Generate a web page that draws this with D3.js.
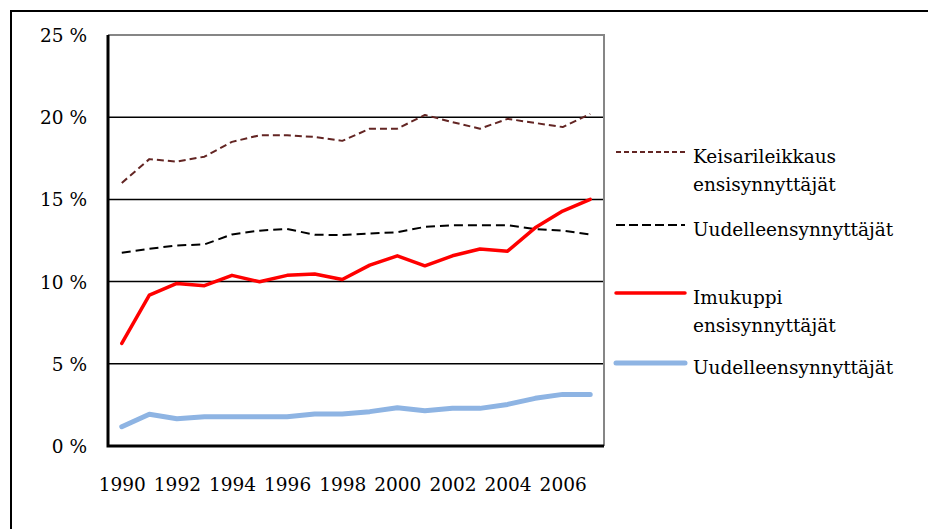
<!DOCTYPE html>
<html>
<head>
<meta charset="utf-8">
<script src="https://cdn.jsdelivr.net/npm/d3@7"></script>
<style>
  body { margin: 0; background: #fff; }
</style>
</head>
<body>
<svg id="chart" width="928" height="529"></svg>
<script>
// years on the category axis, labels every second year
var years = d3.range(1990, 2008);
var yTicks = [0, 5, 10, 15, 20, 25];

// series values (%)
var keisariEnsi = [16.0, 17.45, 17.3, 17.6, 18.5, 18.9, 18.9, 18.8, 18.56, 19.3, 19.3, 20.14, 19.7, 19.3, 19.9, 19.65, 19.4, 20.2];
var keisariUudelleen = [11.75, 12.0, 12.2, 12.26, 12.87, 13.1, 13.2, 12.85, 12.83, 12.93, 13.0, 13.33, 13.43, 13.43, 13.43, 13.2, 13.1, 12.87];
var imukuppiEnsi = [6.24, 9.18, 9.89, 9.75, 10.38, 9.99, 10.38, 10.46, 10.13, 11.0, 11.57, 10.96, 11.57, 11.98, 11.85, 13.27, 14.29, 15.0];
var imukuppiUudelleen = [1.17, 1.93, 1.66, 1.78, 1.78, 1.78, 1.78, 1.95, 1.95, 2.09, 2.33, 2.15, 2.29, 2.29, 2.53, 2.9, 3.14, 3.14];

var series = [
  {name: ['Keisarileikkaus', 'ensisynnyttäjät'], values: keisariEnsi, color: '#632523', width: 2, dash: '7,4', legendDash: '5,3', ly: 152},
  {name: ['Uudelleensynnyttäjät'], values: keisariUudelleen, color: '#000', width: 2, dash: '9,5', legendDash: '9,4', ly: 225},
  {name: ['Imukuppi', 'ensisynnyttäjät'], values: imukuppiEnsi, color: '#ff0000', width: 3.5, dash: null, legendDash: null, ly: 293},
  {name: ['Uudelleensynnyttäjät'], values: imukuppiUudelleen, color: '#8eb4e3', width: 5, dash: null, legendDash: null, ly: 363}
];

var svg = d3.select('#chart');
var plot = {left: 108, top: 35, right: 604, bottom: 446};
// Liberation Serif is not picked up here, DejaVu Serif is the serif that renders
var FONT = '"DejaVu Serif", "Liberation Serif", serif';
var FS = 18.5;

var x = d3.scalePoint().domain(years).range([plot.left, plot.right]).padding(0.5);
var y = d3.scaleLinear().domain([0, 25]).range([plot.bottom, plot.top]);

// outer frame (only top and left edges are visible)
svg.append('path')
    .attr('d', 'M11,529 L11,11 L928,11')
    .attr('fill', 'none').attr('stroke', '#000').attr('stroke-width', 2);

// gridlines
svg.selectAll('.grid').data(yTicks.filter(function (d) { return d > 0 && d < 25; }))
  .enter().append('line')
    .attr('x1', plot.left).attr('x2', plot.right)
    .attr('y1', function (d) { return y(d); }).attr('y2', function (d) { return y(d); })
    .attr('stroke', '#000').attr('stroke-width', 1.5);

// plot frame: grey top/right, black axis lines left/bottom
svg.append('path')
    .attr('d', 'M' + plot.left + ',' + plot.top + ' L' + plot.right + ',' + plot.top + ' L' + plot.right + ',' + plot.bottom)
    .attr('fill', 'none').attr('stroke', '#868686').attr('stroke-width', 2);
svg.append('path')
    .attr('d', 'M' + plot.left + ',' + plot.top + ' L' + plot.left + ',' + plot.bottom + ' L' + plot.right + ',' + plot.bottom)
    .attr('fill', 'none').attr('stroke', '#000').attr('stroke-width', 3);

// y axis labels
var yAxis = d3.axisLeft(y).tickValues(yTicks).tickSize(0).tickPadding(0)
    .tickFormat(function (d) { return d + ' %'; });
var gy = svg.append('g').attr('transform', 'translate(87,0)').call(yAxis);
gy.attr('font-family', FONT).attr('font-size', FS);
gy.select('.domain').remove();
gy.selectAll('text').attr('fill', '#000').attr('dy', '0.35em');

// x axis labels
var xAxis = d3.axisBottom(x).tickValues(years.filter(function (d) { return d % 2 === 0; }))
    .tickSize(0).tickPadding(0);
var gx = svg.append('g').attr('transform', 'translate(0,' + 485 + ')').call(xAxis);
gx.attr('font-family', FONT).attr('font-size', FS);
gx.select('.domain').remove();
gx.selectAll('text').attr('fill', '#000').attr('dy', '0.35em');

// lines
var line = d3.line()
    .x(function (d, i) { return x(years[i]); })
    .y(function (d) { return y(d); });

svg.selectAll('.series').data(series).enter().append('path')
    .attr('class', 'series')
    .attr('d', function (d) { return line(d.values); })
    .attr('fill', 'none')
    .attr('stroke', function (d) { return d.color; })
    .attr('stroke-width', function (d) { return d.width; })
    .attr('stroke-linejoin', 'round')
    .attr('stroke-linecap', function (d) { return d.dash ? 'butt' : 'round'; })
    .attr('stroke-dasharray', function (d) { return d.dash; });

// legend
var legend = svg.selectAll('.legend').data(series).enter().append('g').attr('class', 'legend');
legend.append('line')
    .attr('x1', 616).attr('x2', 685)
    .attr('y1', function (d) { return d.ly; }).attr('y2', function (d) { return d.ly; })
    .attr('stroke', function (d) { return d.color; })
    .attr('stroke-width', function (d) { return d.width; })
    .attr('stroke-linecap', function (d) { return d.legendDash ? 'butt' : 'round'; })
    .attr('stroke-dasharray', function (d) { return d.legendDash; });
legend.each(function (d) {
  var g = d3.select(this);
  d.name.forEach(function (t, i) {
    g.append('text')
        .attr('x', 693)
        .attr('y', d.ly + 5 + i * 28)
        .attr('dy', '0.35em')
        .attr('font-family', FONT)
        .attr('font-size', FS)
        .text(t);
  });
});
</script>
</body>
</html>
